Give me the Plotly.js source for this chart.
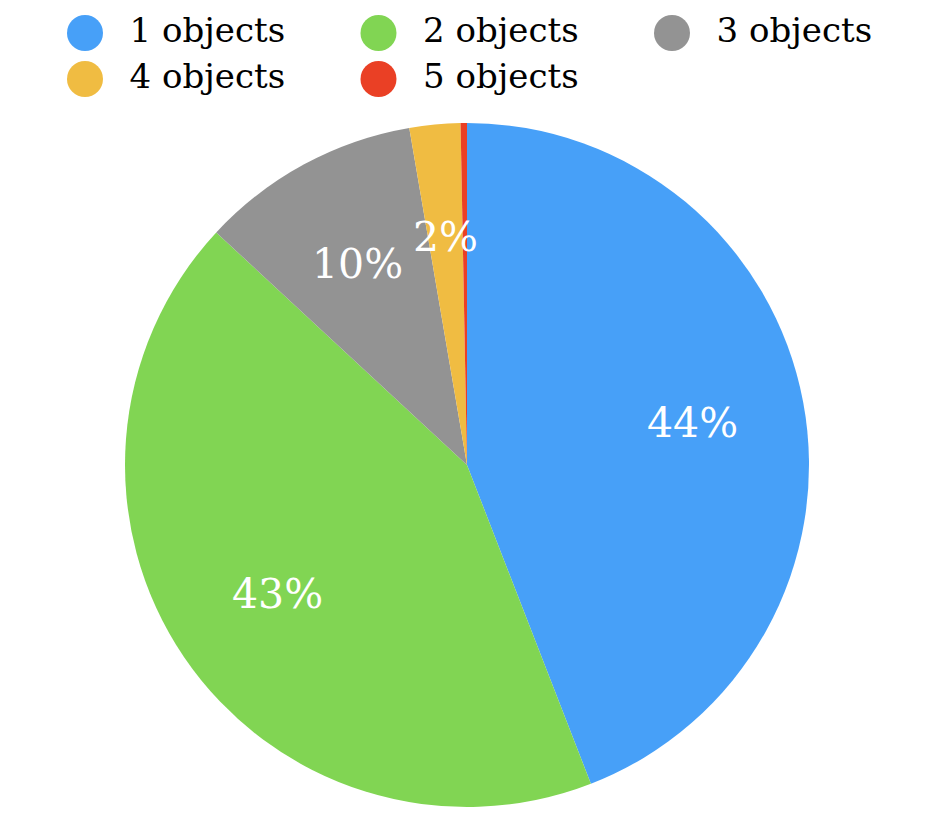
<!DOCTYPE html>
<html><head><meta charset="utf-8">
<script src="https://cdn.plot.ly/plotly-3.0.1.min.js"></script>
<style>html,body{margin:0;padding:0;background:#fff}</style>
</head><body><div id="chart" style="width:932px;height:820px"></div>
<script>
const categories = ["1 objects", "2 objects", "3 objects", "4 objects", "5 objects"];
const shares = [44.1, 42.8, 10.4, 2.4, 0.3];
const showLabel = [true, true, true, true, false];
const colors = ["#47A0F8", "#81D553", "#939393", "#F0BC42", "#EA4025"];

const serif = "DejaVu Serif";
const nCols = 3;
const legCol = categories.map((c, i) => i % nCols);
const legRow = categories.map((c, i) => -Math.floor(i / nCols));
const textOffset = 0.152;

const pxX = 293.5, pxY = 46, x0px = 85, y0px = 33;
const W = 932, H = 820;
const cx = 467, cy = 465, R = 342;

const total = shares.reduce((a, b) => a + b, 0);
let cum = 0;
const annotations = [];
shares.forEach((v, i) => {
  const mid = (cum + v / 2) / total * 2 * Math.PI;
  cum += v;
  if (!showLabel[i]) return;
  const px = cx + 0.67 * R * Math.sin(mid);
  const py = cy - 0.67 * R * Math.cos(mid);
  annotations.push({
    xref: "x", yref: "y",
    x: (px - x0px) / pxX, y: -(py - y0px) / pxY,
    text: Math.round(v / total * 100) + "%",
    showarrow: false, xanchor: "center", yanchor: "middle",
    font: {family: serif, size: 41, color: "#ffffff"}
  });
});

const pie = {
  type: "pie",
  labels: categories,
  values: shares,
  sort: false,
  direction: "clockwise",
  rotation: 0,
  marker: {colors: colors, line: {width: 0}},
  textinfo: "none",
  domain: {x: [(cx - R) / W, (cx + R) / W], y: [(H - cy - R) / H, (H - cy + R) / H]},
  showlegend: false,
  hoverinfo: "label+percent"
};

const legMarkers = {
  type: "scatter", mode: "markers",
  x: legCol, y: legRow,
  marker: {size: 36, color: colors},
  showlegend: false, hoverinfo: "skip", cliponaxis: false
};
const legText = {
  type: "scatter", mode: "text",
  x: legCol.map(v => v + textOffset), y: legRow,
  text: categories,
  textposition: "middle right",
  textfont: {family: serif, size: 34, color: "#000000"},
  showlegend: false, hoverinfo: "skip", cliponaxis: false
};

const layout = {
  width: W, height: H,
  margin: {l: 0, r: 0, t: 0, b: 0},
  paper_bgcolor: "#ffffff", plot_bgcolor: "rgba(0,0,0,0)",
  xaxis: {range: [-x0px / pxX, (W - x0px) / pxX], visible: false, fixedrange: true},
  yaxis: {range: [-(H - y0px) / pxY, y0px / pxY], visible: false, fixedrange: true},
  annotations: annotations,
  showlegend: false
};

Plotly.newPlot("chart", [pie, legMarkers, legText], layout, {displayModeBar: false, staticPlot: true});
</script></body></html>
